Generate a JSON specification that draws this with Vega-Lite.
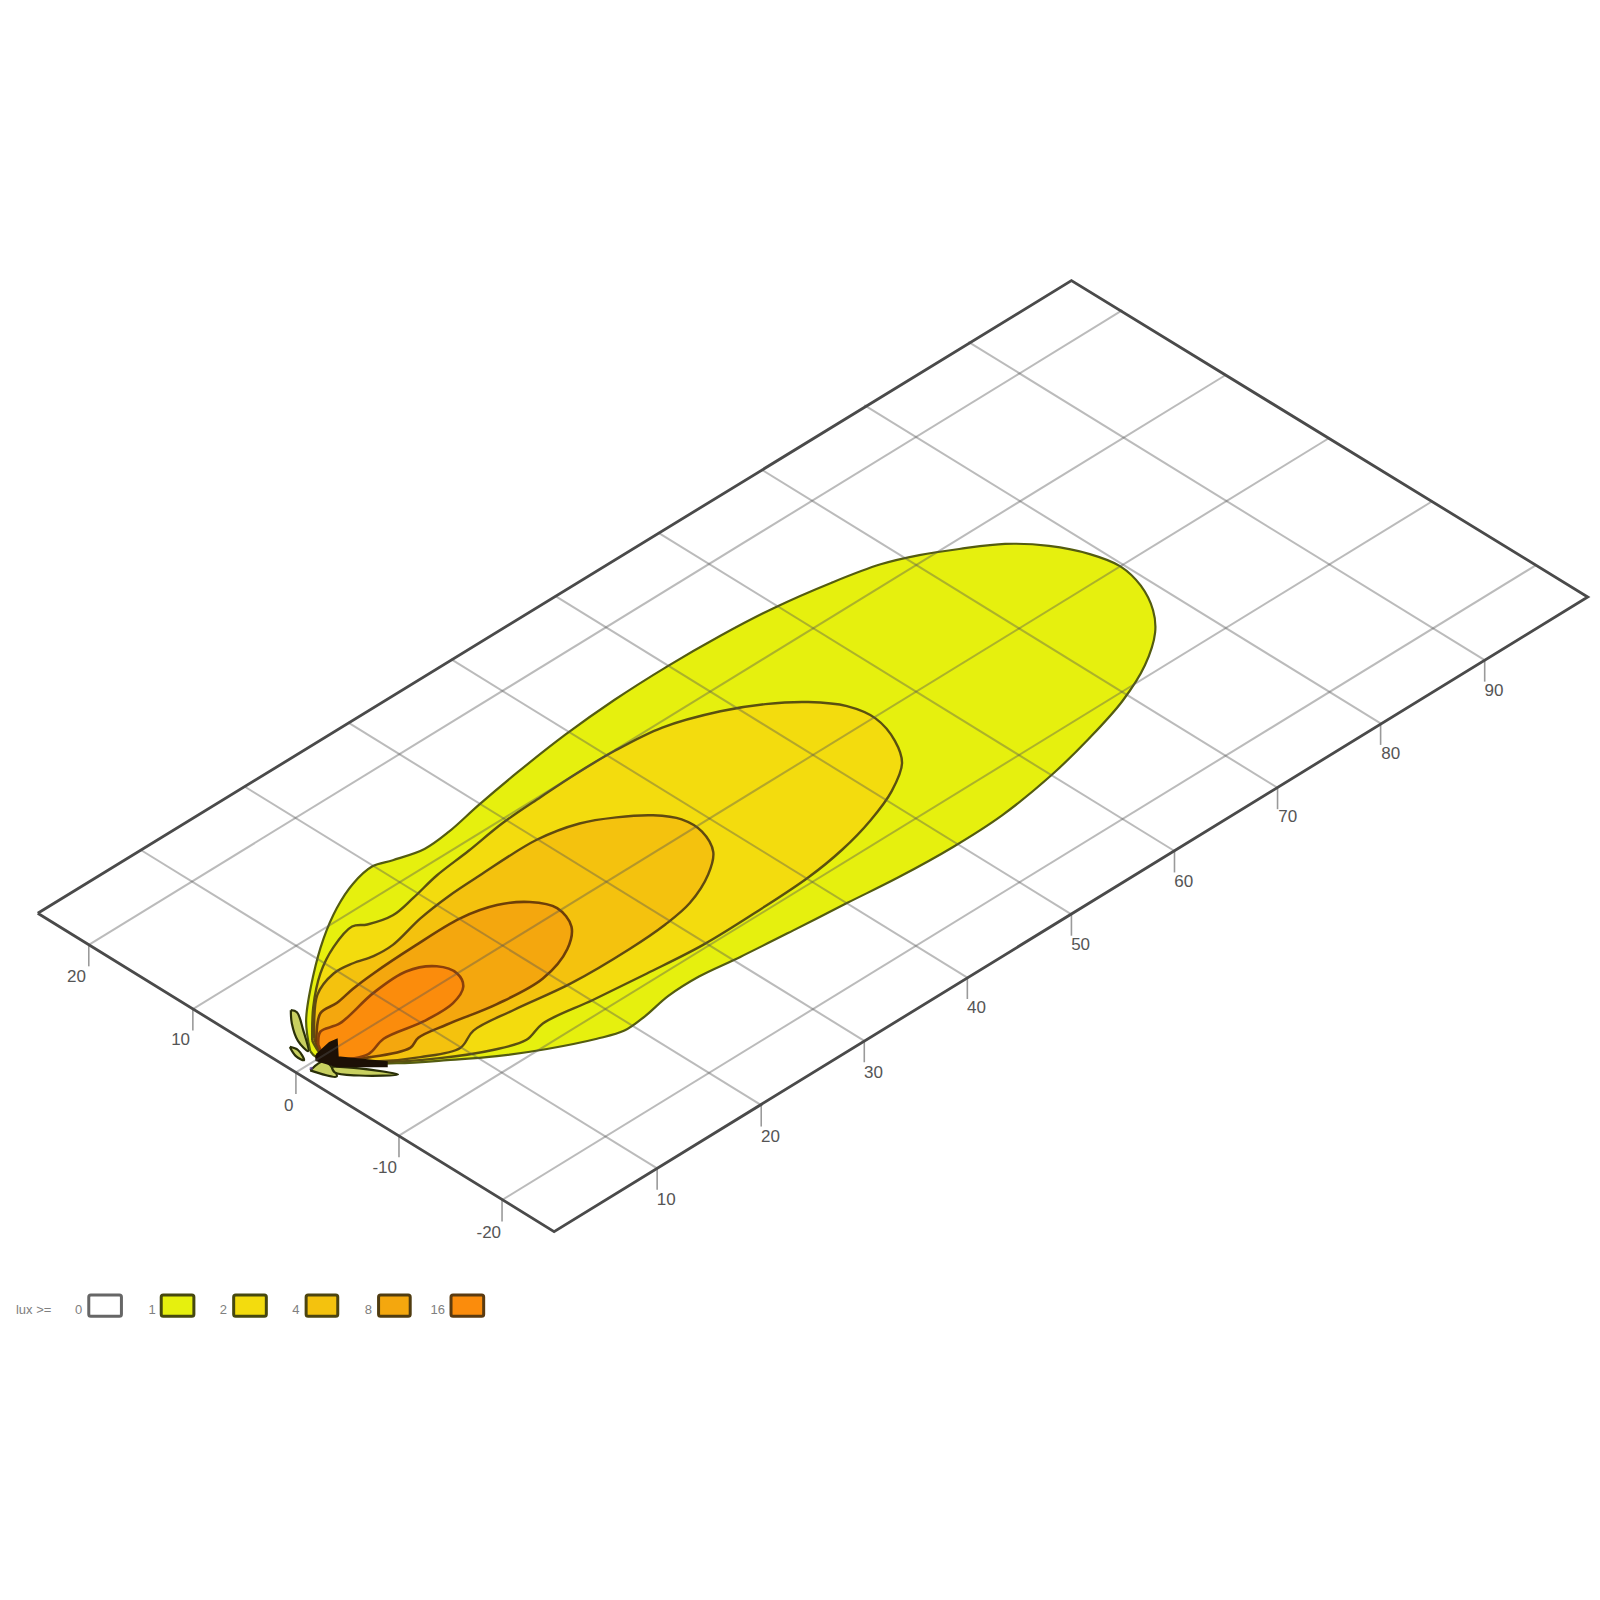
{"$schema":"https://vega.github.io/schema/vega-lite/v6.json","autosize":{"type":"fit","contains":"padding"},"width":1600,"height":1600,"padding":0,"background":"white","config":{"view":{"stroke":null}},
"datasets":{
"lux1":[{"o":0,"x":304,"y":1030},{"o":1,"x":300,"y":1000},{"o":2,"x":307,"y":956},{"o":3,"x":317,"y":920},{"o":4,"x":330,"y":890},{"o":5,"x":346,"y":866},{"o":6,"x":365,"y":849},{"o":7,"x":385,"y":843},{"o":8,"x":416,"y":832},{"o":9,"x":440,"y":815},{"o":10,"x":469,"y":789},{"o":11,"x":507,"y":757},{"o":12,"x":554,"y":720},{"o":13,"x":602,"y":686},{"o":14,"x":654,"y":653},{"o":15,"x":706,"y":623},{"o":16,"x":758,"y":596},{"o":17,"x":815,"y":571},{"o":18,"x":863,"y":553},{"o":19,"x":901,"y":544},{"o":20,"x":940,"y":538},{"o":21,"x":985,"y":533},{"o":22,"x":1028,"y":535},{"o":23,"x":1068,"y":543},{"o":24,"x":1098,"y":555},{"o":25,"x":1118,"y":574},{"o":26,"x":1130,"y":598},{"o":27,"x":1132,"y":620},{"o":28,"x":1122,"y":652},{"o":29,"x":1100,"y":687},{"o":30,"x":1067,"y":724},{"o":31,"x":1030,"y":760},{"o":32,"x":982,"y":799},{"o":33,"x":934,"y":830},{"o":34,"x":880,"y":860},{"o":35,"x":830,"y":885},{"o":36,"x":777,"y":912},{"o":37,"x":725,"y":938},{"o":38,"x":685,"y":957},{"o":39,"x":655,"y":976},{"o":40,"x":632,"y":996},{"o":41,"x":612,"y":1010},{"o":42,"x":585,"y":1018},{"o":43,"x":536,"y":1028},{"o":44,"x":487,"y":1035},{"o":45,"x":438,"y":1039},{"o":46,"x":389,"y":1042},{"o":47,"x":340,"y":1042},{"o":48,"x":310,"y":1036},{"o":49,"x":304,"y":1030}],
"lux2":[{"o":0,"x":306,"y":1020},{"o":1,"x":307,"y":987},{"o":2,"x":314,"y":954},{"o":3,"x":327,"y":928},{"o":4,"x":345,"y":908},{"o":5,"x":360,"y":906},{"o":6,"x":385,"y":897},{"o":7,"x":405,"y":880},{"o":8,"x":428,"y":858},{"o":9,"x":459,"y":834},{"o":10,"x":492,"y":807},{"o":11,"x":530,"y":781},{"o":12,"x":565,"y":758},{"o":13,"x":602,"y":736},{"o":14,"x":649,"y":713},{"o":15,"x":706,"y":697},{"o":16,"x":750,"y":690},{"o":17,"x":792,"y":688},{"o":18,"x":830,"y":692},{"o":19,"x":858,"y":704},{"o":20,"x":877,"y":726},{"o":21,"x":884,"y":748},{"o":22,"x":874,"y":775},{"o":23,"x":853,"y":804},{"o":24,"x":825,"y":833},{"o":25,"x":792,"y":860},{"o":26,"x":744,"y":892},{"o":27,"x":689,"y":926},{"o":28,"x":634,"y":954},{"o":29,"x":581,"y":980},{"o":30,"x":532,"y":1003},{"o":31,"x":516,"y":1019},{"o":32,"x":483,"y":1029},{"o":33,"x":431,"y":1037},{"o":34,"x":372,"y":1041},{"o":35,"x":320,"y":1038},{"o":36,"x":306,"y":1020}],
"lux4":[{"o":0,"x":308,"y":1018},{"o":1,"x":311,"y":975},{"o":2,"x":327,"y":954},{"o":3,"x":346,"y":944},{"o":4,"x":366,"y":937},{"o":5,"x":385,"y":926},{"o":6,"x":412,"y":900},{"o":7,"x":440,"y":878},{"o":8,"x":470,"y":858},{"o":9,"x":526,"y":823},{"o":10,"x":568,"y":807},{"o":11,"x":604,"y":801},{"o":12,"x":640,"y":799},{"o":13,"x":668,"y":803},{"o":14,"x":688,"y":815},{"o":15,"x":699,"y":835},{"o":16,"x":694,"y":857},{"o":17,"x":676,"y":885},{"o":18,"x":652,"y":906},{"o":19,"x":617,"y":930},{"o":20,"x":559,"y":964},{"o":21,"x":503,"y":990},{"o":22,"x":464,"y":1010},{"o":23,"x":451,"y":1027},{"o":24,"x":412,"y":1036},{"o":25,"x":372,"y":1040},{"o":26,"x":320,"y":1038},{"o":27,"x":308,"y":1018}],
"lux8":[{"o":0,"x":310,"y":1022},{"o":1,"x":314,"y":993},{"o":2,"x":330,"y":983},{"o":3,"x":346,"y":969},{"o":4,"x":366,"y":954},{"o":5,"x":405,"y":928},{"o":6,"x":451,"y":900},{"o":7,"x":487,"y":887},{"o":8,"x":519,"y":884},{"o":9,"x":546,"y":890},{"o":10,"x":560,"y":908},{"o":11,"x":556,"y":930},{"o":12,"x":532,"y":959},{"o":13,"x":487,"y":984},{"o":14,"x":438,"y":1004},{"o":15,"x":410,"y":1017},{"o":16,"x":402,"y":1027},{"o":17,"x":363,"y":1036},{"o":18,"x":325,"y":1038},{"o":19,"x":310,"y":1022}],
"lux16":[{"o":0,"x":312,"y":1024},{"o":1,"x":314,"y":1011},{"o":2,"x":333,"y":1003},{"o":3,"x":366,"y":973},{"o":4,"x":398,"y":952},{"o":5,"x":428,"y":947},{"o":6,"x":448,"y":954},{"o":7,"x":454,"y":967},{"o":8,"x":444,"y":983},{"o":9,"x":415,"y":1001},{"o":10,"x":376,"y":1018},{"o":11,"x":361,"y":1033},{"o":12,"x":333,"y":1038},{"o":13,"x":318,"y":1034},{"o":14,"x":312,"y":1024}],
"leaf":[{"id":"a","o":0,"x":285,"y":990},{"id":"a","o":1,"x":291,"y":992},{"id":"a","o":2,"x":297,"y":1009},{"id":"a","o":3,"x":302,"y":1030},{"id":"a","o":4,"x":292,"y":1020},{"id":"a","o":5,"x":286,"y":1003},{"id":"a","o":6,"x":285,"y":990},
{"id":"b","o":0,"x":284,"y":1026},{"id":"b","o":1,"x":292,"y":1029},{"id":"b","o":2,"x":298,"y":1039},{"id":"b","o":3,"x":290,"y":1035},{"id":"b","o":4,"x":284,"y":1026},
{"id":"c","o":0,"x":304,"y":1049},{"id":"c","o":1,"x":318,"y":1040},{"id":"c","o":2,"x":330,"y":1055},{"id":"c","o":3,"x":304,"y":1049},
{"id":"d","o":0,"x":325,"y":1045},{"id":"d","o":1,"x":352,"y":1047},{"id":"d","o":2,"x":390,"y":1053},{"id":"d","o":3,"x":352,"y":1054},{"id":"d","o":4,"x":328,"y":1051},{"id":"d","o":5,"x":325,"y":1045}],
"blob":[{"o":0,"x":310,"y":1034},{"o":1,"x":323,"y":1022},{"o":2,"x":330,"y":1019},{"o":3,"x":331,"y":1036},{"o":4,"x":379,"y":1041},{"o":5,"x":379,"y":1045},{"o":6,"x":330,"y":1045},{"o":7,"x":310,"y":1039},{"o":8,"x":310,"y":1034}],
"spot":[{"x":305,"y":1047}],
"grid":[{"x":644,"y":1145,"x2":138,"y2":833},{"x":746,"y":1083,"x2":240,"y2":771},{"x":847,"y":1020,"x2":341,"y2":708},{"x":948,"y":958,"x2":442,"y2":646},{"x":1050,"y":896,"x2":544,"y2":584},{"x":1151,"y":834,"x2":645,"y2":522},{"x":1252,"y":772,"x2":746,"y2":460},{"x":1353,"y":709,"x2":847,"y2":397},{"x":1455,"y":647,"x2":949,"y2":335},{"x":492,"y":1176,"x2":1505,"y2":554},{"x":391,"y":1113,"x2":1404,"y2":491},{"x":290,"y":1051,"x2":1303,"y2":429},{"x":189,"y":989,"x2":1202,"y2":367},{"x":87,"y":926,"x2":1100,"y2":304}],
"ticks":[{"x":644,"y":1145,"y2":1166},{"x":746,"y":1083,"y2":1104},{"x":847,"y":1020,"y2":1041},{"x":948,"y":958,"y2":979},{"x":1050,"y":896,"y2":917},{"x":1151,"y":834,"y2":855},{"x":1252,"y":772,"y2":793},{"x":1353,"y":709,"y2":730},{"x":1455,"y":647,"y2":668},{"x":492,"y":1176,"y2":1197},{"x":391,"y":1113,"y2":1134},{"x":290,"y":1051,"y2":1072},{"x":189,"y":989,"y2":1010},{"x":87,"y":926,"y2":947}],
"frame":[{"o":0,"x":37,"y":895},{"o":1,"x":1050,"y":275},{"o":2,"x":1556,"y":585},{"o":3,"x":543,"y":1207},{"o":4,"x":37,"y":895}],
"labels":[{"t":"20","x":75,"y":957},{"t":"10","x":177,"y":1019},{"t":"0","x":283,"y":1084},{"t":"-10","x":377,"y":1145},{"t":"-20","x":479,"y":1208},{"t":"10","x":653,"y":1176},{"t":"20","x":755,"y":1114},{"t":"30","x":856,"y":1052},{"t":"40","x":957,"y":988},{"t":"50","x":1059,"y":926},{"t":"60","x":1160,"y":864},{"t":"70","x":1262,"y":801},{"t":"80","x":1363,"y":739},{"t":"90","x":1464,"y":677}],
"legend":[{"lux":"0","x":87,"x2":119,"y":1269,"y2":1290,"lx":77,"ly":1284},{"lux":"1","x":158,"x2":190,"y":1269,"y2":1290,"lx":149,"ly":1284},{"lux":"2","x":229,"x2":261,"y":1269,"y2":1290,"lx":219,"ly":1284},{"lux":"4","x":300,"x2":331,"y":1269,"y2":1290,"lx":290,"ly":1284},{"lux":"8","x":371,"x2":402,"y":1269,"y2":1290,"lx":361,"ly":1284},{"lux":"16","x":442,"x2":474,"y":1269,"y2":1290,"lx":429,"ly":1284}],
"legendTitle":[{"t":"lux >=","x":33,"y":1284}]
},
"encoding":{"x":{"field":"x","type":"quantitative","scale":{"domain":[0,1568],"nice":false,"zero":false},"axis":null},"y":{"field":"y","type":"quantitative","scale":{"domain":[1568,0],"nice":false,"zero":false},"axis":null}},
"layer":[
{"data":{"name":"lux1"},"mark":{"type":"line","interpolate":"catmull-rom","fill":"#e6f00e","stroke":"#545c10","strokeWidth":2.2},"encoding":{"order":{"field":"o"}}},
{"data":{"name":"lux2"},"mark":{"type":"line","interpolate":"catmull-rom","fill":"#f3dc0e","stroke":"#5a5010","strokeWidth":2.4},"encoding":{"order":{"field":"o"}}},
{"data":{"name":"lux4"},"mark":{"type":"line","interpolate":"catmull-rom","fill":"#f4c20e","stroke":"#604a10","strokeWidth":2.4},"encoding":{"order":{"field":"o"}}},
{"data":{"name":"lux8"},"mark":{"type":"line","interpolate":"catmull-rom","fill":"#f4a70e","stroke":"#6e3f08","strokeWidth":2.6},"encoding":{"order":{"field":"o"}}},
{"data":{"name":"lux16"},"mark":{"type":"line","interpolate":"catmull-rom","fill":"#fb8c0c","stroke":"#8a400a","strokeWidth":2.6},"encoding":{"order":{"field":"o"}}},
{"data":{"name":"leaf"},"mark":{"type":"line","interpolate":"catmull-rom","fill":"#c8d060","stroke":"#2a3008","strokeWidth":2.2},"encoding":{"order":{"field":"o"},"detail":{"field":"id"}}},
{"data":{"name":"blob"},"mark":{"type":"line","fill":"#1c1006","stroke":"#1c1006","strokeWidth":2},"encoding":{"order":{"field":"o"}}},
{"data":{"name":"spot"},"mark":{"type":"point","filled":true,"size":12,"fill":"#5a3a9a","opacity":0.7}},
{"data":{"name":"grid"},"mark":{"type":"rule","stroke":"#555555","strokeWidth":2,"opacity":0.4},"encoding":{"x2":{"field":"x2"},"y2":{"field":"y2"}}},
{"data":{"name":"ticks"},"mark":{"type":"rule","stroke":"#9a9a9a","strokeWidth":1.6},"encoding":{"y2":{"field":"y2"}}},
{"data":{"name":"frame"},"mark":{"type":"line","stroke":"#4a4a4a","strokeWidth":2.8},"encoding":{"order":{"field":"o"}}},
{"data":{"name":"labels"},"mark":{"type":"text","font":"Liberation Sans","fontSize":17,"fill":"#555555","align":"center","baseline":"middle"},"encoding":{"text":{"field":"t"}}},
{"data":{"name":"legend"},"mark":{"type":"rect","strokeWidth":3,"cornerRadius":2},"encoding":{"x2":{"field":"x2"},"y2":{"field":"y2"},"fill":{"field":"lux","type":"nominal","legend":null,"scale":{"domain":["0","1","2","4","8","16"],"range":["#ffffff","#e6f00e","#f3dc0e","#f4c20e","#f4a70e","#fb8c0c"]}},"stroke":{"field":"lux","type":"nominal","legend":null,"scale":{"domain":["0","1","2","4","8","16"],"range":["#666666","#46480f","#46480f","#4c4410","#503c10","#5a3a10"]}}}},
{"data":{"name":"legend"},"mark":{"type":"text","font":"Liberation Sans","fontSize":13,"fill":"#808080","align":"center","baseline":"middle"},"encoding":{"x":{"field":"lx","type":"quantitative"},"y":{"field":"ly","type":"quantitative"},"text":{"field":"lux"}}},
{"data":{"name":"legendTitle"},"mark":{"type":"text","font":"Liberation Sans","fontSize":13,"fill":"#808080","align":"center","baseline":"middle"},"encoding":{"text":{"field":"t"}}}
]
}
